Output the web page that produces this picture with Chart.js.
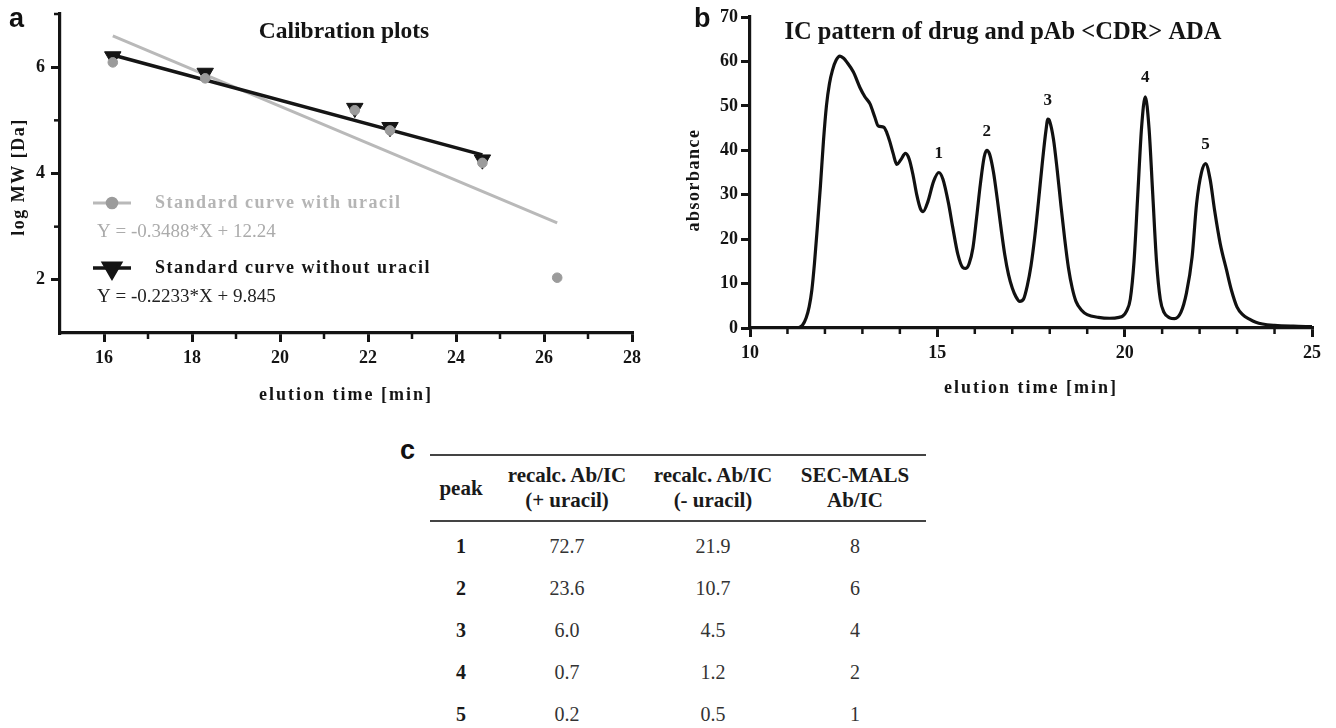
<!DOCTYPE html>
<html><head><meta charset="utf-8">
<script src="https://cdn.jsdelivr.net/npm/chart.js@4.4.1/dist/chart.umd.min.js"></script>
<style>
html,body{margin:0;padding:0;background:#fff;width:1336px;height:728px;overflow:hidden;}
#wrap{position:relative;width:1336px;height:728px;}
canvas{position:absolute;}
.lbl{position:absolute;font-family:'Liberation Sans',Arial,sans-serif;font-weight:bold;font-size:27px;line-height:27px;color:#111;}
#tbl{position:absolute;left:430px;top:454px;border-collapse:collapse;font-family:'Liberation Serif','Times New Roman',serif;font-size:20px;color:#333;}
#tbl th{font-weight:bold;font-size:21px;color:#1a1a1a;line-height:25px;height:64px;padding:0;vertical-align:middle;text-align:center;}
#tbl thead tr{border-top:2px solid #444;border-bottom:2px solid #444;}
#tbl td{padding:0;height:42px;line-height:42px;text-align:center;}
#tbl td.pk{font-weight:bold;color:#1a1a1a;}
#tbl tr.sp td{height:3px;line-height:3px;}
</style></head>
<body><div id="wrap">
<canvas id="ca" width="660" height="420" style="left:0;top:0;width:660px;height:420px"></canvas>
<canvas id="cb" width="676" height="420" style="left:660px;top:0;width:676px;height:420px"></canvas>
<div class="lbl" style="left:9px;top:5px">a</div>
<div class="lbl" style="left:694px;top:5px">b</div>
<div class="lbl" style="left:400px;top:437px">c</div>
<table id="tbl"></table>
</div>
<script>
// ---------- panel a data ----------
const stdElution = [16.2, 18.3, 21.7, 22.5, 24.6];
const logMwWithoutUracil = [6.2, 5.89, 5.23, 4.87, 4.26];
const uracilElution = [16.2, 18.3, 21.7, 22.5, 24.6, 26.3];
const logMwWithUracil = [6.09, 5.79, 5.19, 4.81, 4.2, 2.04];
const fitWithX = [16.2, 26.3];
const fitWithY = [6.59, 3.07];
const fitWithoutX = [16.2, 24.6];
const fitWithoutY = [6.23, 4.35];
const aXTicks = [16, 18, 20, 22, 24, 26, 28];
const aXMinor = [17, 19, 21, 23, 25, 27];
const aYTicks = [2, 4, 6];
const aYMinor = [3, 5, 7];
const legendNames = ['Standard curve with uracil', 'Standard curve without uracil'];
const legendEquations = ['Y = -0.3488*X + 12.24', 'Y = -0.2233*X + 9.845'];

// ---------- panel b data ----------
const icTime = [10.0,11.0,11.3,11.4,11.5,11.58,11.65,11.72,11.8,11.88,11.96,12.04,12.12,12.2,12.3,12.4,12.5,12.58,12.76,12.93,13.07,13.2,13.33,13.42,13.57,13.65,13.73,13.82,13.92,14.02,14.15,14.25,14.35,14.45,14.55,14.62,14.75,14.9,15.04,15.15,15.3,15.41,15.55,15.68,15.76,15.85,15.95,16.05,16.15,16.25,16.32,16.4,16.5,16.6,16.7,16.8,16.9,17.0,17.1,17.2,17.3,17.4,17.5,17.6,17.7,17.8,17.9,17.95,18.0,18.1,18.2,18.3,18.4,18.5,18.6,18.7,18.85,19.0,19.3,19.6,19.85,19.95,20.05,20.15,20.25,20.35,20.45,20.55,20.65,20.75,20.85,20.95,21.05,21.2,21.33,21.5,21.65,21.8,21.92,22.05,22.16,22.28,22.4,22.55,22.72,22.85,23.0,23.15,23.33,23.5,23.68,24.0,24.5,25.0];
const icAbsorbance = [0,0,0.1,0.6,2.3,4.8,8.5,14.5,23,32,42,50,55,58,60.3,61.2,60.7,59.9,57.6,54.2,52,50.5,47.5,45.5,45.2,44,42,39.3,36.8,37.8,39.3,38,34.5,30,26.8,26.2,28.5,33,35,33.5,28,22.7,16.5,13.6,13.4,14.5,18,25,32.5,38.5,40,39,35,29,22.5,16.5,12,9,7,6,6.5,9.5,14,20.5,28.5,37,44.5,47,46.5,42.5,35.5,27.5,20,13.5,9,6,4,3,2.4,2.2,2.4,2.7,3.8,6.5,15,30,45,52,45,30,15,6.5,3.5,2.3,2.1,3.5,7.9,16,28,35,37,33.5,26.5,19,13,8.5,4.7,3,2,1.3,0.9,0.6,0.4,0.3];
const peakLabels = ['1', '2', '3', '4', '5'];
const peakTimes = [15.04, 16.32, 17.95, 20.55, 22.16];
const peakTops = [35, 40, 47, 52, 37];
const bXTicks = [10, 15, 20, 25];
const bXMinor = [11, 12, 13, 14, 16, 17, 18, 19, 21, 22, 23, 24];
const bYTicks = [0, 10, 20, 30, 40, 50, 60, 70];

// ---------- panel c data ----------
const tableHeads = [['peak'], ['recalc. Ab/IC', '(+ uracil)'], ['recalc. Ab/IC', '(- uracil)'], ['SEC-MALS', 'Ab/IC']];
const tablePeaks = ['1', '2', '3', '4', '5'];
const tablePlusUracil = ['72.7', '23.6', '6.0', '0.7', '0.2'];
const tableMinusUracil = ['21.9', '10.7', '4.5', '1.2', '0.5'];
const tableSecMals = ['8', '6', '4', '2', '1'];

const SERIF = "'Liberation Serif', 'Times New Roman', serif";
const INK = '#141414';

const decoPlugin = {
  id: 'deco',
  afterDraw(chart, args, o) {
    const ctx = chart.ctx, ca = chart.chartArea;
    const xs = chart.scales.x, ys = chart.scales.y;
    ctx.save();
    ctx.strokeStyle = INK; ctx.lineWidth = 2.5;
    (o.xMinor || []).forEach(v => {
      const px = xs.getPixelForValue(v);
      ctx.beginPath(); ctx.moveTo(px, ca.bottom); ctx.lineTo(px, ca.bottom + o.minorLen); ctx.stroke();
    });
    (o.yMinor || []).forEach(v => {
      const py = ys.getPixelForValue(v);
      ctx.beginPath(); ctx.moveTo(ca.left, py); ctx.lineTo(ca.left - o.minorLen, py); ctx.stroke();
    });
    (o.texts || []).forEach(t => {
      ctx.save();
      ctx.font = t.font; ctx.fillStyle = t.color || INK;
      ctx.letterSpacing = t.spacing || '0px';
      ctx.textAlign = t.align || 'center'; ctx.textBaseline = 'middle';
      ctx.translate(t.x, t.y); if (t.rot) ctx.rotate(t.rot);
      ctx.fillText(t.text, 0, 0);
      ctx.restore();
    });
    if (o.legend) {
      o.legend.forEach(e => {
        const ds = chart.data.datasets[e.pointDs];
        ctx.save();
        ctx.strokeStyle = chart.data.datasets[e.lineDs].borderColor;
        ctx.lineWidth = chart.data.datasets[e.lineDs].borderWidth;
        ctx.beginPath(); ctx.moveTo(e.x0, e.y); ctx.lineTo(e.x1, e.y); ctx.stroke();
        ctx.fillStyle = ds.pointBackgroundColor; ctx.strokeStyle = ds.pointBorderColor;
        Chart.helpers.drawPoint(ctx, {pointStyle: ds.pointStyle, rotation: ds.pointRotation || 0, radius: ds.pointRadius, borderWidth: ds.pointBorderWidth || 1}, (e.x0 + e.x1) / 2, e.y);
        ctx.letterSpacing = e.spacing; ctx.font = e.font; ctx.fillStyle = e.color;
        ctx.textAlign = 'left'; ctx.textBaseline = 'middle';
        ctx.fillText(e.name, e.tx, e.y);
        ctx.letterSpacing = '0px'; ctx.font = e.eqFont; ctx.fillStyle = e.eqColor;
        ctx.fillText(e.eq, e.ex, e.ey);
        ctx.restore();
      });
    }
    if (o.peaks) {
      ctx.font = 'bold 17px ' + SERIF; ctx.fillStyle = INK; ctx.textAlign = 'center'; ctx.textBaseline = 'middle';
      peakLabels.forEach((l, i) => {
        ctx.fillText(l, xs.getPixelForValue(peakTimes[i]), ys.getPixelForValue(peakTops[i]) - o.peakGap);
      });
    }
    ctx.restore();
  }
};

function axisCommon(ticksArr, fixSize, isX, pad) {
  return {
    type: 'linear',
    grid: {display: true, drawOnChartArea: false, drawTicks: true, tickLength: 9, color: INK, lineWidth: 3},
    border: {display: true, color: INK, width: 3.2},
    ticks: {color: INK, font: {family: SERIF, weight: 'bold', size: 18}, padding: pad, autoSkip: false, maxRotation: 0},
    afterBuildTicks: s => { s.ticks = ticksArr.map(v => ({value: v})); },
    afterFit: s => {
      if (isX) { s.height = fixSize; s.paddingLeft = 0; s.paddingRight = 0; }
      else { s.width = fixSize; s.paddingTop = 0; s.paddingBottom = 0; }
    }
  };
}

Chart.defaults.animation = false;

const xyA = (xa, ya) => xa.map((v, i) => ({x: v, y: ya[i]}));

const chartA = new Chart(document.getElementById('ca'), {
  type: 'scatter',
  data: {datasets: [
    {label: legendNames[0], data: xyA(uracilElution, logMwWithUracil), pointStyle: 'circle', pointRadius: 4.8,
     pointBackgroundColor: '#9b9b9b', pointBorderColor: '#9b9b9b', pointBorderWidth: 1, showLine: false, order: 1},
    {label: legendNames[1], data: xyA(stdElution, logMwWithoutUracil), pointStyle: 'triangle', pointRotation: 180, pointRadius: 9.5,
     pointBackgroundColor: '#151515', pointBorderColor: '#151515', pointBorderWidth: 1, showLine: false, order: 2},
    {label: 'fit without', data: xyA(fitWithoutX, fitWithoutY), showLine: true, pointRadius: 0, borderColor: '#151515', borderWidth: 3.5, order: 3},
    {label: 'fit with', data: xyA(fitWithX, fitWithY), showLine: true, pointRadius: 0, borderColor: '#b9b9b9', borderWidth: 3, order: 4}
  ]},
  options: {
    responsive: false, devicePixelRatio: 1,
    layout: {padding: {top: 14, right: 28, left: 0, bottom: 0}},
    plugins: {legend: {display: false}, tooltip: {enabled: false},
      deco: {
        xMinor: aXMinor, yMinor: aYMinor, minorLen: 6,
        texts: [
          {text: 'Calibration plots', x: 344, y: 32, font: 'bold 23.5px ' + SERIF},
          {text: 'elution time [min]', x: 346, y: 395, font: 'bold 18px ' + SERIF, spacing: '2px'},
          {text: 'log MW [Da]', x: 19, y: 177, rot: -Math.PI / 2, font: 'bold 18px ' + SERIF, spacing: '1.5px'}
        ],
        legend: [
          {pointDs: 0, lineDs: 3, x0: 93, x1: 131, y: 203, tx: 155, name: legendNames[0], font: 'bold 18px ' + SERIF, spacing: '1.5px', color: '#b5b5b5',
           eq: legendEquations[0], ex: 97, ey: 232, eqFont: '19px ' + SERIF, eqColor: '#ababab'},
          {pointDs: 1, lineDs: 2, x0: 93, x1: 131, y: 268, tx: 155, name: legendNames[1], font: 'bold 18px ' + SERIF, spacing: '1.5px', color: '#151515',
           eq: legendEquations[1], ex: 97, ey: 297, eqFont: '19px ' + SERIF, eqColor: '#222'}
        ]
      }
    },
    scales: {
      x: Object.assign(axisCommon(aXTicks, 87, true, 6), {min: 15, max: 28}),
      y: Object.assign(axisCommon(aYTicks, 60, false, 6), {min: 1, max: 7})
    }
  },
  plugins: [decoPlugin]
});

const chartB = new Chart(document.getElementById('cb'), {
  type: 'line',
  data: {datasets: [
    {label: 'absorbance', data: xyA(icTime, icAbsorbance), borderColor: '#111', borderWidth: 3.2, pointRadius: 0,
     cubicInterpolationMode: 'monotone', fill: false}
  ]},
  options: {
    responsive: false, devicePixelRatio: 1,
    layout: {padding: {top: 17, right: 24, left: 0, bottom: 0}},
    plugins: {legend: {display: false}, tooltip: {enabled: false},
      deco: {
        xMinor: bXMinor, yMinor: [], minorLen: 6, peaks: true, peakGap: 19,
        texts: [
          {text: 'IC pattern of drug and pAb <CDR> ADA', x: 343, y: 33, font: 'bold 24.5px ' + SERIF},
          {text: 'elution time [min]', x: 371, y: 388, font: 'bold 18px ' + SERIF, spacing: '2px'},
          {text: 'absorbance', x: 34, y: 180, rot: -Math.PI / 2, font: 'bold 18px ' + SERIF, spacing: '1.5px'}
        ]
      }
    },
    scales: {
      x: Object.assign(axisCommon(bXTicks, 92, true, 6), {min: 10, max: 25}),
      y: Object.assign(axisCommon(bYTicks, 90, false, 3), {min: 0, max: 70})
    }
  },
  plugins: [decoPlugin]
});

// table
const tbl = document.getElementById('tbl');
const widths = [62, 150, 142, 142];
let html = '<colgroup>' + widths.map(w => '<col style="width:' + w + 'px">').join('') + '</colgroup>';
html += '<thead><tr>' + tableHeads.map(h => '<th>' + h.join('<br>') + '</th>').join('') + '</tr></thead><tbody>';
html += '<tr class="sp"><td></td><td></td><td></td><td></td></tr>';
tablePeaks.forEach((p, i) => {
  html += '<tr><td class="pk">' + p + '</td><td>' + tablePlusUracil[i] + '</td><td>' + tableMinusUracil[i] + '</td><td>' + tableSecMals[i] + '</td></tr>';
});
html += '</tbody>';
tbl.innerHTML = html;
</script>
</body></html>
